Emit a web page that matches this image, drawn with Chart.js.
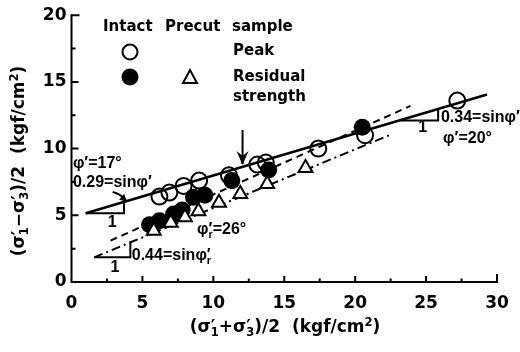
<!DOCTYPE html>
<html>
<head>
<meta charset="utf-8">
<script src="https://cdn.jsdelivr.net/npm/chart.js@4.4.0/dist/chart.umd.min.js"></script>
<style>
html, body { margin: 0; padding: 0; background: #fff; }
</style>
</head>
<body>
<canvas id="stress_chart" width="520" height="352"></canvas>
<script>
// intact sample, peak (open circles)
const intact_peak_x = [6.2, 6.9, 7.9, 9.0, 11.1, 13.1, 13.7, 17.4, 20.7, 27.2];
const intact_peak_y = [6.4, 6.7, 7.2, 7.6, 8.0, 8.8, 8.95, 10.0, 11.0, 13.6];
// intact sample, residual strength (filled circles)
const intact_res_x = [5.5, 6.2, 7.2, 7.8, 8.6, 9.4, 11.3, 13.9, 20.5];
const intact_res_y = [4.3, 4.6, 5.1, 5.4, 6.35, 6.5, 7.6, 8.4, 11.6];
// precut sample, residual strength (triangles)
const precut_res_x = [5.8, 7.0, 8.0, 8.95, 10.4, 11.9, 13.8, 16.5];
const precut_res_y = [3.85, 4.45, 4.85, 5.3, 5.95, 6.6, 7.35, 8.55];

// fitted lines
const peak_line_x = [1.0, 29.3];
const peak_line_y = [5.15, 14.05];
const res_intact_line_x = [2.75, 23.9];
const res_intact_line_y = [3.1, 13.2];
const res_precut_line_x = [1.6, 22.4];
const res_precut_line_y = [1.85, 11.0];

// slope triangles
const tri_left_x = [1.0, 3.7, 3.7];
const tri_left_y = [5.15, 5.15, 6.0];
const tri_right_x = [23.2, 25.85, 25.85];
const tri_right_y = [12.1, 12.1, 12.95];
const tri_res_x = [1.6, 4.15, 4.15];
const tri_res_y = [1.85, 1.85, 2.95];

// arrows
const arrow_x = [12.06, 12.06];
const arrow_y = [11.4, 8.85];
const curl_x = [2.9, 3.45, 3.85];
const curl_y = [6.75, 6.5, 6.1];

const x_ticks = [0, 5, 10, 15, 20, 25, 30];
const y_ticks = [0, 5, 10, 15, 20];

function toPoints(xs, ys){
    return xs.map((v, i) => ({x: v, y: ys[i]}));
}

const TICK_FONT = '"DejaVu Sans"';
const NOTE_FONT = '"Liberation Sans"';

// draws a run of text pieces, some as sub / superscripts
function richWidth(ctx, parts, size, family){
    let w = 0;
    parts.forEach(p => {
        const s = (p.sub || p.sup) ? size * 0.68 : size;
        ctx.font = 'bold ' + s + 'px ' + family;
        if(!p.keep) w += ctx.measureText(p.t).width;
    });
    return w;
}

function drawRich(ctx, parts, x, y, size, family){
    let cx = x;
    ctx.textAlign = 'left';
    ctx.textBaseline = 'middle';
    parts.forEach(p => {
        const s = (p.sub || p.sup) ? size * 0.68 : size;
        ctx.font = 'bold ' + s + 'px ' + family;
        let dy = 0;
        if(p.sub) dy = size * 0.32;
        if(p.sup) dy = -size * 0.3;
        ctx.fillText(p.t, cx, y + dy);
        if(!p.keep) cx += ctx.measureText(p.t).width;
    });
}

const P = '\u2032';

// annotation texts, placed in data units
const notes = [
    {x: 0.1, y: 8.9, parts: [{t: '\u03c6' + P + '=17\u00b0'}]},
    {x: 0.1, y: 7.45, parts: [{t: '0.29=sin\u03c6' + P}]},
    {x: 8.85, y: 3.9, parts: [{t: '\u03c6'}, {t: P, keep: true}, {t: 'r', sub: true}, {t: '=26\u00b0'}]},
    {x: 4.25, y: 1.95, parts: [{t: '0.44=sin\u03c6'}, {t: P, keep: true}, {t: 'r', sub: true}]},
    {x: 26.05, y: 12.3, parts: [{t: '0.34=sin\u03c6' + P}]},
    {x: 26.2, y: 10.75, parts: [{t: '\u03c6' + P + '=20\u00b0'}]},
    {x: 2.55, y: 4.45, parts: [{t: '1'}]},
    {x: 2.75, y: 1.1, parts: [{t: '1'}]},
    {x: 24.45, y: 11.55, parts: [{t: '1'}]}
];

const axesPlugin = {
    id: 'axes_and_notes',
    beforeDatasetsDraw(chart){
        const ctx = chart.ctx;
        const xs = chart.scales.x;
        const ys = chart.scales.y;
        const left = xs.getPixelForValue(0);
        const bottom = ys.getPixelForValue(0);
        const top = ys.getPixelForValue(20);
        const right = xs.getPixelForValue(30);
        ctx.save();
        ctx.strokeStyle = '#000';
        ctx.lineWidth = 2;
        ctx.lineCap = 'square';
        ctx.beginPath();
        ctx.moveTo(left, top);
        ctx.lineTo(left, bottom);
        ctx.lineTo(right, bottom);
        ctx.stroke();
        ctx.lineCap = 'butt';
        ctx.beginPath();
        for(let v = 2.5; v <= 30; v += 2.5){
            const px = xs.getPixelForValue(v);
            const len = (v % 5 === 0) ? 6 : 3.5;
            ctx.moveTo(px, bottom);
            ctx.lineTo(px, bottom - (v === 30 ? 8 : len));
        }
        for(let v = 2.5; v <= 20; v += 2.5){
            const py = ys.getPixelForValue(v);
            const len = (v % 5 === 0) ? 7 : 4;
            ctx.moveTo(left, py);
            ctx.lineTo(left + (v === 20 ? 8 : len), py);
        }
        ctx.stroke();
        ctx.restore();
    },
    afterDraw(chart){
        const ctx = chart.ctx;
        const xs = chart.scales.x;
        const ys = chart.scales.y;
        ctx.save();
        ctx.fillStyle = '#000';
        ctx.strokeStyle = '#000';

        // arrow head on the vertical arrow
        const ax = xs.getPixelForValue(arrow_x[1]);
        const ay = ys.getPixelForValue(arrow_y[1]);
        ctx.beginPath();
        ctx.moveTo(ax, ay + 1);
        ctx.lineTo(ax - 6, ay - 13);
        ctx.lineTo(ax, ay - 8);
        ctx.lineTo(ax + 6, ay - 13);
        ctx.closePath();
        ctx.fill();

        // small arrow head on the curl
        const cx = xs.getPixelForValue(curl_x[2]);
        const cy = ys.getPixelForValue(curl_y[2]);
        ctx.beginPath();
        ctx.moveTo(cx + 1, cy + 1);
        ctx.lineTo(cx - 7, cy - 1);
        ctx.lineTo(cx - 2, cy - 7);
        ctx.closePath();
        ctx.fill();

        // notes
        notes.forEach(n => {
            drawRich(ctx, n.parts, xs.getPixelForValue(n.x), ys.getPixelForValue(n.y), 16, NOTE_FONT);
        });

        // legend block
        ctx.font = 'bold 15px ' + TICK_FONT;
        ctx.textAlign = 'left';
        ctx.textBaseline = 'middle';
        ctx.fillText('Intact', 103, 27);
        ctx.fillText('Precut', 165, 27);
        ctx.fillText('sample', 232, 27);
        ctx.fillText('Peak', 233, 51);
        ctx.fillText('Residual', 233, 77);
        ctx.fillText('strength', 233, 97);

        ctx.lineWidth = 2;
        ctx.beginPath();
        ctx.arc(130, 52, 7.5, 0, Math.PI * 2);
        ctx.stroke();
        ctx.beginPath();
        ctx.arc(130, 77, 8.5, 0, Math.PI * 2);
        ctx.fill();
        ctx.beginPath();
        ctx.moveTo(190, 70);
        ctx.lineTo(197, 83);
        ctx.lineTo(183, 83);
        ctx.closePath();
        ctx.stroke();

        // axis titles
        const xt = [{t: '(\u03c3'}, {t: P, keep: true}, {t: '1', sub: true}, {t: '+\u03c3'}, {t: P, keep: true}, {t: '3', sub: true},
                    {t: ')/2  (kgf/cm'}, {t: '2', sup: true}, {t: ')'}];
        const yt = [{t: '(\u03c3'}, {t: P, keep: true}, {t: '1', sub: true}, {t: '\u2212\u03c3'}, {t: P, keep: true}, {t: '3', sub: true},
                    {t: ')/2  (kgf/cm'}, {t: '2', sup: true}, {t: ')'}];
        const xw = richWidth(ctx, xt, 17, TICK_FONT);
        drawRich(ctx, xt, 285 - xw / 2, 328, 17, TICK_FONT);
        const yw = richWidth(ctx, yt, 17, TICK_FONT);
        ctx.translate(20, 161);
        ctx.rotate(-Math.PI / 2);
        drawRich(ctx, yt, -yw / 2, 0, 17, TICK_FONT);
        ctx.restore();
    }
};

const ctx = document.getElementById('stress_chart').getContext('2d');
const stress_chart = new Chart(ctx, {
    type: 'scatter',
    data: {
        datasets: [
            {
                label: 'Precut residual',
                data: toPoints(precut_res_x, precut_res_y),
                pointStyle: 'triangle',
                pointRadius: 8,
                pointBorderWidth: 2,
                backgroundColor: '#fff',
                borderColor: '#000'
            },
            {
                label: 'Intact residual',
                data: toPoints(intact_res_x, intact_res_y),
                pointStyle: 'circle',
                pointRadius: 8.5,
                pointBorderWidth: 0,
                backgroundColor: '#000',
                borderColor: '#000'
            },
            {
                label: 'Intact peak',
                data: toPoints(intact_peak_x, intact_peak_y),
                pointStyle: 'circle',
                pointRadius: 8,
                pointBorderWidth: 2,
                backgroundColor: 'rgba(255,255,255,0)',
                borderColor: '#000'
            },
            {
                label: 'peak line',
                data: toPoints(peak_line_x, peak_line_y),
                showLine: true, pointRadius: 0, borderWidth: 2.5, borderColor: '#000'
            },
            {
                label: 'intact residual line',
                data: toPoints(res_intact_line_x, res_intact_line_y),
                showLine: true, pointRadius: 0, borderWidth: 2, borderColor: '#000',
                borderDash: [7, 5]
            },
            {
                label: 'precut residual line',
                data: toPoints(res_precut_line_x, res_precut_line_y),
                showLine: true, pointRadius: 0, borderWidth: 2, borderColor: '#000',
                borderDash: [9, 4, 2, 4]
            },
            {
                label: 'tri left',
                data: toPoints(tri_left_x, tri_left_y),
                showLine: true, pointRadius: 0, borderWidth: 2, borderColor: '#000'
            },
            {
                label: 'tri right',
                data: toPoints(tri_right_x, tri_right_y),
                showLine: true, pointRadius: 0, borderWidth: 2, borderColor: '#000'
            },
            {
                label: 'tri residual',
                data: toPoints(tri_res_x, tri_res_y),
                showLine: true, pointRadius: 0, borderWidth: 2, borderColor: '#000'
            },
            {
                label: 'arrow',
                data: toPoints(arrow_x, arrow_y),
                showLine: true, pointRadius: 0, borderWidth: 2, borderColor: '#000'
            },
            {
                label: 'curl',
                data: toPoints(curl_x, curl_y),
                showLine: true, pointRadius: 0, borderWidth: 2, borderColor: '#000',
                tension: 0.4
            }
        ]
    },
    options: {
        responsive: false,
        animation: false,
        devicePixelRatio: 1,
        layout: {
            padding: {top: 15, right: 23, left: 0, bottom: 0}
        },
        plugins: {
            legend: {display: false},
            tooltip: {enabled: false}
        },
        scales: {
            x: {
                type: 'linear',
                min: 0,
                max: 30,
                afterFit: s => { s.height = 70; },
                afterBuildTicks: s => { s.ticks = x_ticks.map(v => ({value: v})); },
                grid: {display: false, drawTicks: false},
                border: {display: false},
                ticks: {
                    padding: 11,
                    color: '#000',
                    maxRotation: 0,
                    font: {family: 'DejaVu Sans', size: 17, weight: 'bold'}
                }
            },
            y: {
                type: 'linear',
                min: 0,
                max: 20,
                afterFit: s => { s.width = 71.5; },
                afterBuildTicks: s => { s.ticks = y_ticks.map(v => ({value: v})); },
                grid: {display: false, drawTicks: false},
                border: {display: false},
                ticks: {
                    padding: 5,
                    color: '#000',
                    font: {family: 'DejaVu Sans', size: 17, weight: 'bold'}
                }
            }
        }
    },
    plugins: [axesPlugin]
});
</script>
</body>
</html>
